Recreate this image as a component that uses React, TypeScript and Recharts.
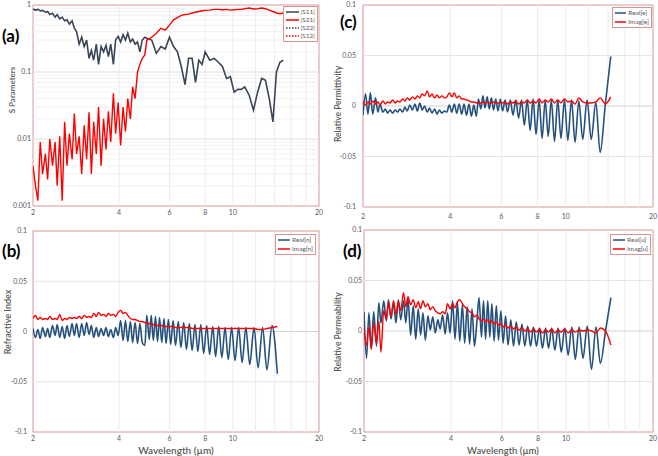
import React from 'react';
import { LineChart, Line, XAxis, YAxis, ReferenceLine, ReferenceArea } from 'recharts';

const FONT = "Lato, 'Open Sans', sans-serif";
const GREY_TEXT = '#595959';
const BORDER = '#d99694';
const BLUE = '#24507e';
const RED = '#ff0000';
const SLATE = '#3a4556';

// wavelength grid (um), left part shared by every panel
const WL_LEFT = [
  2.0, 2.04, 2.08, 2.12, 2.16, 2.21, 2.25, 2.29, 2.34, 2.39,
  2.43, 2.48, 2.53, 2.58, 2.63, 2.68, 2.74, 2.79, 2.84, 2.9,
  2.96, 3.02, 3.08, 3.14, 3.2, 3.26, 3.33, 3.39, 3.46, 3.53,
  3.6, 3.67, 3.74, 3.82, 3.89, 3.97, 4.05, 4.13, 4.21, 4.29,
  4.38, 4.46, 4.55, 4.64, 4.73, 4.82, 4.92,
];
// fringe peaks / troughs above 5 um
const WL_RIGHT = [
  5.0, 5.1, 5.18, 5.27, 5.36, 5.45, 5.54, 5.64, 5.74, 5.84,
  5.95, 6.06, 6.18, 6.3, 6.44, 6.58, 6.73, 6.88, 7.04, 7.2,
  7.37, 7.54, 7.72, 7.9, 8.1, 8.29, 8.5, 8.7, 8.92, 9.15,
  9.39, 9.63, 9.9, 10.17, 10.47, 10.77, 11.1, 11.45, 11.85, 12.25,
  12.7, 13.15, 13.7, 14.3,
];
const S_WL_RIGHT = [
  5.0, 5.2, 5.4, 5.6, 5.8, 6.0, 6.2, 6.4, 6.6, 6.8,
  7.0, 7.2, 7.4, 7.6, 7.8, 8.0, 8.3, 8.6, 8.9, 9.2,
  9.5, 9.8, 10.1, 10.4, 10.7, 11.0, 11.4, 11.8, 12.2, 12.6,
  13.0, 13.4, 13.8, 14.2, 14.6, 15.0,
];
const WL = [...WL_LEFT, ...WL_RIGHT];
const S_WL = [...WL_LEFT, ...S_WL_RIGHT];

// (a) S parameters
const S11 = [
  0.87, 0.84, 0.86, 0.82, 0.83, 0.78, 0.8, 0.72, 0.75, 0.66,
  0.72, 0.62, 0.66, 0.58, 0.6, 0.52, 0.58, 0.45, 0.4, 0.26,
  0.33, 0.24, 0.3, 0.16, 0.21, 0.15, 0.26, 0.13, 0.24, 0.2,
  0.25, 0.17, 0.26, 0.13, 0.3, 0.34, 0.28, 0.36, 0.3, 0.38,
  0.28, 0.31, 0.26, 0.28, 0.2, 0.3, 0.33,
  0.32, 0.3, 0.19, 0.24, 0.22, 0.33, 0.24, 0.2, 0.12, 0.065,
  0.16, 0.16, 0.07, 0.15, 0.13, 0.2, 0.15, 0.16, 0.14, 0.12,
  0.08, 0.085, 0.05, 0.055, 0.055, 0.06, 0.045, 0.027, 0.05, 0.08,
  0.075, 0.04, 0.018, 0.1, 0.14, 0.15,
];
const S21 = [
  0.004, 0.002, 0.0012, 0.009, 0.003, 0.006, 0.0025, 0.01, 0.004, 0.009,
  0.002, 0.011, 0.0012, 0.018, 0.004, 0.012, 0.005, 0.024, 0.006, 0.011,
  0.003, 0.016, 0.005, 0.025, 0.003, 0.018, 0.006, 0.03, 0.004, 0.02,
  0.007, 0.026, 0.009, 0.048, 0.012, 0.035, 0.008, 0.03, 0.013, 0.04,
  0.02, 0.06, 0.04, 0.1, 0.13, 0.16, 0.18,
  0.3, 0.33, 0.38, 0.45, 0.42, 0.5, 0.6, 0.65, 0.7, 0.72,
  0.73, 0.76, 0.78, 0.8, 0.82, 0.83, 0.84, 0.86, 0.86, 0.85,
  0.86, 0.84, 0.85, 0.86, 0.86, 0.88, 0.9, 0.87, 0.88, 0.9,
  0.88, 0.84, 0.8, 0.76, 0.74, 0.76,
];

// (b) refractive index
const N_REAL = [
  0.003, -0.006, 0.002, -0.007, 0.004, -0.005, 0.003, -0.006, 0.006, -0.004,
  0.007, -0.006, 0.005, -0.007, 0.006, -0.005, 0.008, -0.004, 0.008, -0.006,
  0.008, -0.004, 0.009, -0.003, 0.006, -0.006, 0.004, -0.005, 0.003, -0.004,
  0.004, -0.005, 0.002, -0.006, 0.004, -0.004, 0.011, -0.009, 0.011, -0.01,
  0.01, -0.011, 0.009, -0.012, 0.008, -0.011, -0.014,
  0.016, -0.008, 0.016, -0.009, 0.015, -0.01, 0.014, -0.011, 0.013, -0.012,
  0.012, -0.013, 0.011, -0.014, 0.01, -0.016, 0.009, -0.018, 0.008, -0.019,
  0.007, -0.02, 0.007, -0.022, 0.006, -0.023, 0.005, -0.025, 0.005, -0.026,
  0.004, -0.028, 0.004, -0.029, 0.004, -0.031, 0.004, -0.033, 0.004, -0.036,
  0.004, -0.038, 0.006, -0.042,
];
const N_IMAG = [
  0.013, 0.016, 0.012, 0.014, 0.012, 0.013, 0.012, 0.015, 0.012, 0.013,
  0.012, 0.017, 0.011, 0.013, 0.012, 0.014, 0.013, 0.014, 0.013, 0.015,
  0.013, 0.016, 0.014, 0.015, 0.014, 0.018, 0.015, 0.019, 0.016, 0.017,
  0.015, 0.018, 0.016, 0.017, 0.015, 0.019, 0.021, 0.018, 0.019, 0.016,
  0.013, 0.012, 0.012, 0.011, 0.01, 0.01, 0.009,
  0.008, 0.008, 0.007, 0.007, 0.006, 0.006, 0.006, 0.006, 0.005, 0.005,
  0.005, 0.005, 0.005, 0.004, 0.004, 0.004, 0.004, 0.004, 0.004, 0.003,
  0.003, 0.003, 0.003, 0.003, 0.003, 0.003, 0.003, 0.003, 0.003, 0.003,
  0.003, 0.003, 0.003, 0.003, 0.003, 0.003, 0.003, 0.003, 0.003, 0.002,
  0.002, 0.003, 0.004, 0.005,
];

// (c) relative permittivity
const E_REAL = [
  -0.009, 0.012, -0.008, 0.013, -0.008, 0.008, -0.006, 0.002, -0.006, -0.003,
  -0.007, -0.004, -0.007, -0.004, -0.006, -0.003, -0.006, -0.001, -0.005, 0.001,
  -0.004, 0.002, -0.005, 0.003, -0.004, 0.0, -0.006, -0.002, -0.007, -0.003,
  -0.008, -0.004, -0.007, -0.005, -0.006, 0.001, -0.006, 0.002, -0.007, 0.002,
  -0.008, 0.002, -0.009, 0.002, -0.01, 0.001, -0.01,
  0.007, -0.003, 0.01, -0.002, 0.009, -0.003, 0.008, -0.004, 0.007, -0.005,
  0.007, -0.005, 0.006, -0.006, 0.006, -0.009, 0.006, -0.012, 0.006, -0.019,
  0.006, -0.024, 0.007, -0.028, 0.006, -0.032, 0.006, -0.03, 0.006, -0.035,
  0.006, -0.032, 0.006, -0.034, 0.006, -0.036, 0.005, -0.033, 0.006, -0.033,
  0.004, -0.046, 0.002, 0.049,
];
const E_IMAG = [
  0.005, 0.001, 0.004, 0.002, 0.005, 0.002, 0.004, 0.001, 0.005, 0.002,
  0.004, 0.003, 0.006, 0.003, 0.005, 0.004, 0.007, 0.005, 0.008, 0.006,
  0.009, 0.007, 0.01, 0.008, 0.012, 0.01, 0.015, 0.009, 0.012, 0.008,
  0.011, 0.008, 0.01, 0.008, 0.009, 0.013, 0.009, 0.013, 0.008, 0.01,
  0.007, 0.007, 0.006, 0.005, 0.004, 0.004, 0.003,
  0.003, 0.003, 0.004, 0.003, 0.004, 0.003, 0.003, 0.004, 0.003, 0.003,
  0.004, 0.003, 0.004, 0.002, 0.004, 0.003, 0.005, 0.002, 0.004, 0.003,
  0.006, 0.003, 0.005, 0.003, 0.007, 0.003, 0.006, 0.004, 0.007, 0.003,
  0.006, 0.003, 0.007, 0.004, 0.005, 0.002, 0.008, 0.004, 0.003, 0.003,
  0.004, 0.008, 0.002, 0.009,
];

// (d) relative permeability
const U_REAL = [
  0.019, -0.027, 0.018, -0.018, 0.019, -0.015, 0.028, 0.008, 0.03, 0.01,
  0.031, 0.012, 0.028, 0.008, 0.031, 0.011, 0.03, 0.008, 0.032, -0.004,
  0.025, -0.008, 0.022, -0.004, 0.018, -0.009, 0.015, 0.001, 0.014, -0.002,
  0.011, 0.002, 0.016, -0.003, 0.018, -0.002, 0.03, -0.008, 0.028, -0.01,
  0.026, -0.012, 0.024, -0.013, 0.022, -0.015, 0.01,
  0.033, -0.006, 0.03, -0.008, 0.03, -0.006, 0.027, -0.01, 0.025, -0.009,
  0.02, -0.012, 0.015, -0.014, 0.011, -0.015, 0.009, -0.014, 0.007, -0.015,
  0.005, -0.015, 0.004, -0.015, 0.003, -0.017, 0.003, -0.017, 0.003, -0.019,
  0.003, -0.021, 0.003, -0.024, 0.004, -0.028, 0.004, -0.027, 0.005, -0.038,
  0.004, -0.032, 0.0, 0.033,
];
const U_IMAG = [
  0.002, -0.014, 0.004, -0.018, 0.008, -0.012, 0.01, -0.021, 0.02, 0.012,
  0.028, 0.014, 0.03, 0.016, 0.029, 0.02, 0.038, 0.024, 0.034, 0.026,
  0.031, 0.023, 0.029, 0.022, 0.03, 0.024, 0.027, 0.021, 0.024, 0.02,
  0.018, 0.017, 0.019, 0.017, 0.027, 0.022, 0.027, 0.023, 0.029, 0.031,
  0.027, 0.024, 0.022, 0.019, 0.018, 0.014, 0.016,
  0.012, 0.01, 0.012, 0.009, 0.011, 0.008, 0.01, 0.007, 0.009, 0.006,
  0.007, 0.004, 0.006, 0.003, 0.005, 0.002, 0.004, 0.001, 0.003, 0.0,
  0.002, -0.001, 0.002, -0.001, 0.002, -0.002, 0.001, -0.001, 0.002, -0.002,
  0.001, -0.001, 0.002, -0.002, 0.001, -0.001, 0.001, 0.0, 0.001, 0.0,
  -0.002, 0.003, 0.0, -0.014,
];

const X_TICKS = [2, 4, 6, 8, 10, 20];
const X_GRID = [4, 6, 8, 10, 12, 14, 16, 18];
const LIN_TICKS = [-0.1, -0.05, 0, 0.05, 0.1];
const LOG_TICKS = [0.001, 0.01, 0.1, 1];
const LOG_MINOR = [
  0.002, 0.003, 0.004, 0.005, 0.006, 0.007, 0.008, 0.009,
  0.02, 0.03, 0.04, 0.05, 0.06, 0.07, 0.08, 0.09,
  0.2, 0.3, 0.4, 0.5, 0.6, 0.7, 0.8, 0.9,
];

const zip = (wl: number[], a: number[], b: number[]) =>
  wl.map((x, i) => ({ wl: x, a: a[i], b: b[i] }));

type PanelProps = {
  left: number;
  top: number;
  width: number;
  height: number;
  marginTop: number;
  marginRight: number;
  yWidth: number;
  xHeight: number;
  xTickMargin: number;
  yTickMargin: number;
  data: { wl: number; a: number; b: number }[];
  log?: boolean;
  colorA: string;
  colorB: string;
};

function Panel(p: PanelProps) {
  const tick = { fontSize: 7, fill: GREY_TEXT, fontFamily: FONT };
  const yDomain = p.log ? [0.001, 1] : [-0.1, 0.1];
  return (
    <div style={{ position: 'absolute', left: p.left, top: p.top }}>
      <LineChart
        width={p.width}
        height={p.height}
        data={p.data}
        margin={{ top: p.marginTop, right: p.marginRight, left: 0, bottom: 0 }}
      >
        <XAxis
          dataKey="wl"
          type="number"
          scale="log"
          domain={[2, 20]}
          ticks={X_TICKS}
          interval={0}
          allowDataOverflow
          axisLine={false}
          tickLine={false}
          tickSize={0}
          tickMargin={p.xTickMargin}
          height={p.xHeight}
          tick={tick}
        />
        {p.log ? (
          <YAxis
            type="number"
            scale="log"
            domain={yDomain}
            ticks={LOG_TICKS}
            interval={0}
            allowDataOverflow
            axisLine={false}
            tickLine={false}
            tickSize={0}
            tickMargin={p.yTickMargin}
            width={p.yWidth}
            tick={tick}
            tickFormatter={(v) => String(v)}
          />
        ) : (
          <YAxis
            type="number"
            domain={yDomain}
            ticks={LIN_TICKS}
            interval={0}
            allowDataOverflow
            axisLine={false}
            tickLine={false}
            tickSize={0}
            tickMargin={p.yTickMargin}
            width={p.yWidth}
            tick={tick}
            tickFormatter={(v) => String(v)}
          />
        )}
        {p.log &&
          LOG_MINOR.map((v) => (
            <ReferenceLine key={'m' + v} y={v} stroke="#f1f1f1" strokeWidth={1} />
          ))}
        {X_GRID.map((v) => (
          <ReferenceLine key={'x' + v} x={v} stroke="#ececec" strokeWidth={1} />
        ))}
        {p.log
          ? [0.01, 0.1].map((v) => (
              <ReferenceLine key={'y' + v} y={v} stroke="#dedede" strokeWidth={1} />
            ))
          : [-0.05, 0.05].map((v) => (
              <ReferenceLine key={'y' + v} y={v} stroke="#e4e4e4" strokeWidth={1} />
            ))}
        {!p.log && <ReferenceLine y={0} stroke="#d2d2d2" strokeWidth={1} />}
        <Line
          type={p.log ? 'linear' : 'monotone'}
          dataKey="a"
          stroke={p.colorA}
          strokeWidth={1.6}
          dot={false}
          activeDot={false}
          isAnimationActive={false}
        />
        <Line
          type={p.log ? 'linear' : 'monotone'}
          dataKey="b"
          stroke={p.colorB}
          strokeWidth={1.4}
          dot={false}
          activeDot={false}
          isAnimationActive={false}
        />
        <ReferenceArea
          x1={2}
          x2={20}
          y1={yDomain[0]}
          y2={yDomain[1]}
          fill="none"
          stroke={BORDER}
          strokeWidth={1}
          ifOverflow="visible"
        />
      </LineChart>
    </div>
  );
}

type LegendRow = { label: string; color: string; dashed?: boolean };

// box is anchored at its right edge and sized to its content
function LegendBox({ right, top, rowH, rows, lineW }: {
  right: number; top: number; rowH: number; rows: LegendRow[]; lineW: number;
}) {
  return (
    <div
      style={{
        position: 'absolute',
        right: 658 - right,
        top,
        boxSizing: 'border-box',
        border: `1px solid ${BORDER}`,
        background: '#fff',
        padding: '1px 2px 1px 2px',
      }}
    >
      {rows.map((r) => (
        <div key={r.label} style={{ display: 'flex', alignItems: 'center', height: rowH }}>
          <svg width={lineW} height={4} style={{ flex: 'none' }}>
            <line
              x1={0}
              y1={2}
              x2={lineW}
              y2={2}
              stroke={r.color}
              strokeWidth={1.5}
              strokeDasharray={r.dashed ? '1.5 1.5' : undefined}
            />
          </svg>
          <span
            style={{
              marginLeft: 2,
              fontSize: 6.5,
              lineHeight: `${rowH}px`,
              color: GREY_TEXT,
              fontFamily: FONT,
              whiteSpace: 'nowrap',
            }}
          >
            {r.label}
          </span>
        </div>
      ))}
    </div>
  );
}

function VTitle({ x, y, text, size }: { x: number; y: number; text: string; size: number }) {
  return (
    <div
      style={{
        position: 'absolute',
        left: x,
        top: y,
        transform: 'translate(-50%, -50%) rotate(-90deg)',
        fontSize: size,
        fontWeight: 600,
        color: GREY_TEXT,
        fontFamily: FONT,
        whiteSpace: 'nowrap',
        lineHeight: 1,
      }}
    >
      {text}
    </div>
  );
}

function HTitle({ x, y, text, size }: { x: number; y: number; text: string; size: number }) {
  return (
    <div
      style={{
        position: 'absolute',
        left: x,
        top: y,
        transform: 'translate(-50%, -50%)',
        fontSize: size,
        fontWeight: 600,
        color: GREY_TEXT,
        fontFamily: FONT,
        whiteSpace: 'nowrap',
        lineHeight: 1,
      }}
    >
      {text}
    </div>
  );
}

function Tag({ x, y, text }: { x: number; y: number; text: string }) {
  return (
    <div
      style={{
        position: 'absolute',
        left: x,
        top: y,
        transform: 'translateY(-50%)',
        fontSize: 17,
        fontWeight: 700,
        color: '#000',
        fontFamily: FONT,
        lineHeight: 1,
      }}
    >
      {text}
    </div>
  );
}

export default function App() {
  return (
    <div
      style={{
        position: 'fixed',
        left: 0,
        top: 0,
        width: 658,
        height: 456,
        background: '#fff',
        overflow: 'hidden',
      }}
    >
      <Panel
        left={0} top={0} width={329} height={228}
        marginTop={5} marginRight={10} yWidth={33} xHeight={22}
        xTickMargin={4} yTickMargin={2}
        data={zip(S_WL, S11, S21)} log colorA={SLATE} colorB={RED}
      />
      <Panel
        left={0} top={225} width={329} height={231}
        marginTop={6} marginRight={10} yWidth={33} xHeight={24}
        xTickMargin={4} yTickMargin={6}
        data={zip(WL, N_REAL, N_IMAG)} colorA={BLUE} colorB={RED}
      />
      <Panel
        left={328} top={0} width={330} height={228}
        marginTop={5} marginRight={5} yWidth={35} xHeight={21}
        xTickMargin={7} yTickMargin={7}
        data={zip(WL, E_REAL, E_IMAG)} colorA={BLUE} colorB={RED}
      />
      <Panel
        left={328} top={225} width={330} height={231}
        marginTop={5} marginRight={5} yWidth={36} xHeight={24}
        xTickMargin={4} yTickMargin={2}
        data={zip(WL, U_REAL, U_IMAG)} colorA={BLUE} colorB={RED}
      />

      <LegendBox
        right={318} top={6} rowH={8} lineW={13}
        rows={[
          { label: '|S11|', color: SLATE },
          { label: '|S21|', color: RED },
          { label: '|S22|', color: SLATE, dashed: true },
          { label: '|S12|', color: RED, dashed: true },
        ]}
      />
      <LegendBox
        right={316} top={234} rowH={8.5} lineW={12}
        rows={[
          { label: 'Real[n]', color: BLUE },
          { label: 'Imag[n]', color: RED },
        ]}
      />
      <LegendBox
        right={652} top={7} rowH={8.5} lineW={11}
        rows={[
          { label: 'Real[e]', color: BLUE },
          { label: 'Imag[e]', color: RED },
        ]}
      />
      <LegendBox
        right={651} top={234} rowH={8.5} lineW={12}
        rows={[
          { label: 'Real[u]', color: BLUE },
          { label: 'Imag[u]', color: RED },
        ]}
      />

      <VTitle x={12} y={90} text="S Parameters" size={8} />
      <VTitle x={7} y={322} text="Refractive Index" size={9} />
      <VTitle x={338} y={104} text="Relative Permittivity" size={8.5} />
      <VTitle x={338} y={332} text="Relative Permeability" size={8.5} />
      <HTitle x={176} y={450} text="Wavelength (µm)" size={10} />
      <HTitle x={503} y={451} text="Wavelength (µm)" size={9.5} />

      <Tag x={2} y={35} text="(a)" />
      <Tag x={2} y={250} text="(b)" />
      <Tag x={340} y={21} text="(c)" />
      <Tag x={343} y={250} text="(d)" />
    </div>
  );
}
